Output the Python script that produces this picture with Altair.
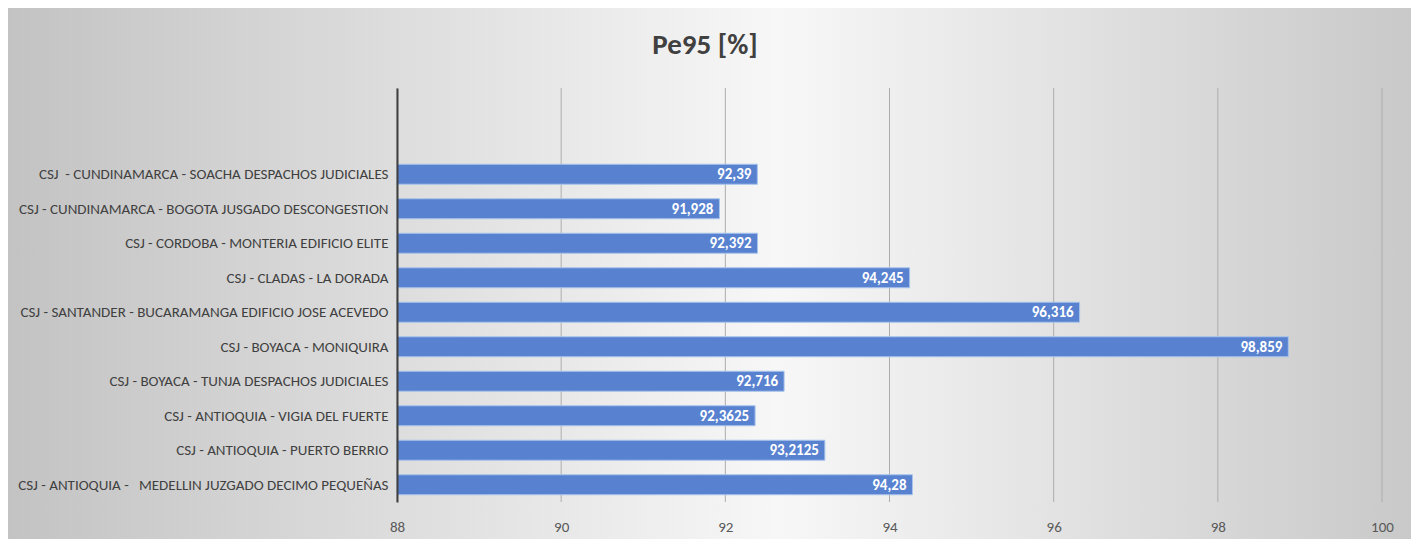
import altair as alt
import pandas as pd

categories = [
    "CSJ \u00a0- CUNDINAMARCA - SOACHA DESPACHOS JUDICIALES",
    "CSJ - CUNDINAMARCA - BOGOTA JUSGADO DESCONGESTION",
    "CSJ - CORDOBA - MONTERIA EDIFICIO ELITE",
    "CSJ - CLADAS - LA DORADA",
    "CSJ - SANTANDER - BUCARAMANGA EDIFICIO JOSE ACEVEDO",
    "CSJ - BOYACA - MONIQUIRA",
    "CSJ - BOYACA - TUNJA DESPACHOS JUDICIALES",
    "CSJ - ANTIOQUIA - VIGIA DEL FUERTE",
    "CSJ - ANTIOQUIA - PUERTO BERRIO",
    "CSJ - ANTIOQUIA - \u00a0 MEDELLIN JUZGADO DECIMO PEQUEÑAS",
]
values = [92.39, 91.928, 92.392, 94.245, 96.316, 98.859, 92.716, 92.3625, 93.2125, 94.28]
x_ticks = [88, 90, 92, 94, 96, 98, 100]
blank_slots = ["", " "]
title_text = "Pe95 [%]"

FONT = "Liberation Sans Narrow, Carlito, Roboto Condensed, sans-serif"
W, H = 985, 414
PAD = {"left": 389, "top": 80, "right": 29, "bottom": 37}

df = pd.DataFrame({"cat": categories, "value": values})
ticks_df = pd.DataFrame({"t": x_ticks})

xscale = alt.Scale(domain=[x_ticks[0], x_ticks[-1]], zero=False, nice=False)
yscale = alt.Scale(domain=blank_slots + categories, paddingInner=0.42, paddingOuter=0.21)

bg = alt.Chart(alt.Data(values=[{}])).mark_rect(
    fill=alt.Gradient(
        gradient="linear", x1=0, y1=0, x2=1, y2=0,
        stops=[
            alt.GradientStop(offset=0, color="#c3c3c3"),
            alt.GradientStop(offset=0.55, color="#f7f7f7"),
            alt.GradientStop(offset=1, color="#c9c9c9"),
        ],
    ),
    strokeWidth=0,
).encode(
    x=alt.value(-PAD["left"]), x2=alt.value(W + PAD["right"]),
    y=alt.value(-PAD["top"]), y2=alt.value(H + PAD["bottom"]),
)

grid = alt.Chart(ticks_df).mark_rule(color="#adadad", strokeWidth=1).encode(
    x=alt.X("t:Q", scale=xscale),
    y=alt.value(0), y2=alt.value(H),
)

bars = alt.Chart(df).mark_bar(fill="#5882d0", stroke="#a9c4eb", strokeWidth=1).encode(
    y=alt.Y("cat:N", scale=yscale, sort=None,
            axis=alt.Axis(title=None, ticks=False, labelFont=FONT, labelFontSize=15,
                          labelColor="#404040", labelPadding=9, labelLimit=0,
                          domainColor="#404040", domainWidth=2, zindex=1)),
    x=alt.X("value:Q", scale=xscale,
            axis=alt.Axis(title=None, values=x_ticks, grid=False, domain=False, ticks=False,
                          labelFont=FONT, labelFontSize=15, labelColor="#595959",
                          labelPadding=17, labelFlush=False, format="d", zindex=1)),
    x2=alt.datum(x_ticks[0]),
)

labels = alt.Chart(df).transform_calculate(
    lab="replace(toString(datum.value), '.', ',')"
).mark_text(align="right", baseline="middle", dx=-6, color="white",
            fontWeight="bold", font=FONT, fontSize=15).encode(
    y=alt.Y("cat:N", scale=yscale, sort=None),
    x=alt.X("value:Q", scale=xscale),
    text="lab:N",
)

title = alt.Chart(alt.Data(values=[{"t": title_text}])).mark_text(
    align="center", baseline="middle", fontSize=29, fontWeight="bold",
    font=FONT, color="#404040",
).encode(x=alt.value(308), y=alt.value(-43), text="t:N")

chart = alt.layer(bg, grid, bars, labels, title).properties(
    width=W, height=H,
    autosize=alt.AutoSizeParams(type="none"),
    padding=PAD,
).configure_view(stroke=None)

chart.save("out.html", embed_options={"renderer": "svg", "actions": False})
